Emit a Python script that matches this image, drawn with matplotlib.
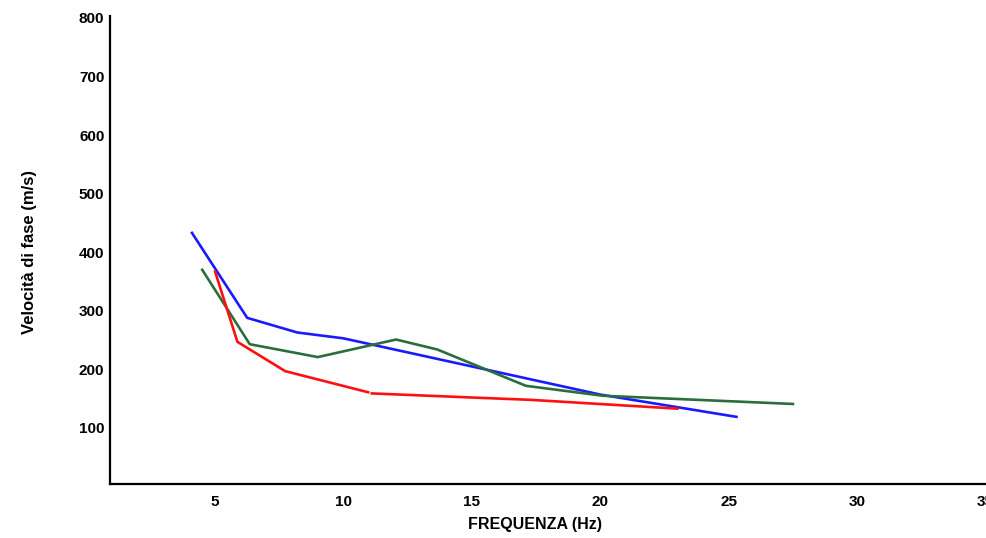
import matplotlib
matplotlib.use("Agg")
import matplotlib.pyplot as plt

plt.rcParams["font.family"] = ["Liberation Sans", "DejaVu Sans"]

# Frequenza (Hz) / velocita di fase (m/s)
blue_f = [4.1, 6.25, 8.2, 10.0, 20.0, 25.3]
blue_v = [433, 288, 263, 253, 157, 119]

green_f = [4.5, 6.35, 9.0, 12.05, 13.65, 17.1, 20.1, 27.5]
green_v = [370, 243, 221, 251, 234, 172, 155, 141]

red_f_a = [5.0, 5.87, 7.73, 10.96]
red_v_a = [367, 247, 197, 161]
red_f_b = [11.1, 15.0, 17.3, 23.0]
red_v_b = [159, 152, 148, 133]

xticks = [5, 10, 15, 20, 25, 30, 35]
yticks = [100, 200, 300, 400, 500, 600, 700, 800]

fig = plt.figure(figsize=(9.86, 5.38), dpi=100)
ax = fig.add_axes([0.1116, 0.1004, 0.914, 0.8696])

lw = 1.9
ax.plot(blue_f, blue_v, color="#1a1aff", lw=lw)
ax.plot(green_f, green_v, color="#2b6e3c", lw=lw)
ax.plot(red_f_a, red_v_a, color="#ff1010", lw=lw)
ax.plot(red_f_b, red_v_b, color="#ff1010", lw=lw)

ax.set_xlim(0.91, 36)
ax.set_ylim(4.4, 803)
ax.set_xticks(xticks)
ax.set_yticks(yticks)
ax.tick_params(length=0, labelsize=11)
ax.tick_params(axis="x", pad=8)
ax.tick_params(axis="y", pad=4)
for lab in ax.get_xticklabels() + ax.get_yticklabels():
    lab.set_fontweight("bold")

for s in ("top", "right"):
    ax.spines[s].set_visible(False)
for s in ("left", "bottom"):
    ax.spines[s].set_linewidth(1.6)

fig.text(535 / 986, 1 - 524 / 538, "FREQUENZA (Hz)", ha="center", va="center",
         fontsize=11.5, fontweight="bold")
fig.text(30 / 986, 1 - 252 / 538, "Velocità di fase (m/s)", ha="center", va="center",
         rotation=90, fontsize=12, fontweight="bold")

fig.savefig("out.png", dpi=100)
